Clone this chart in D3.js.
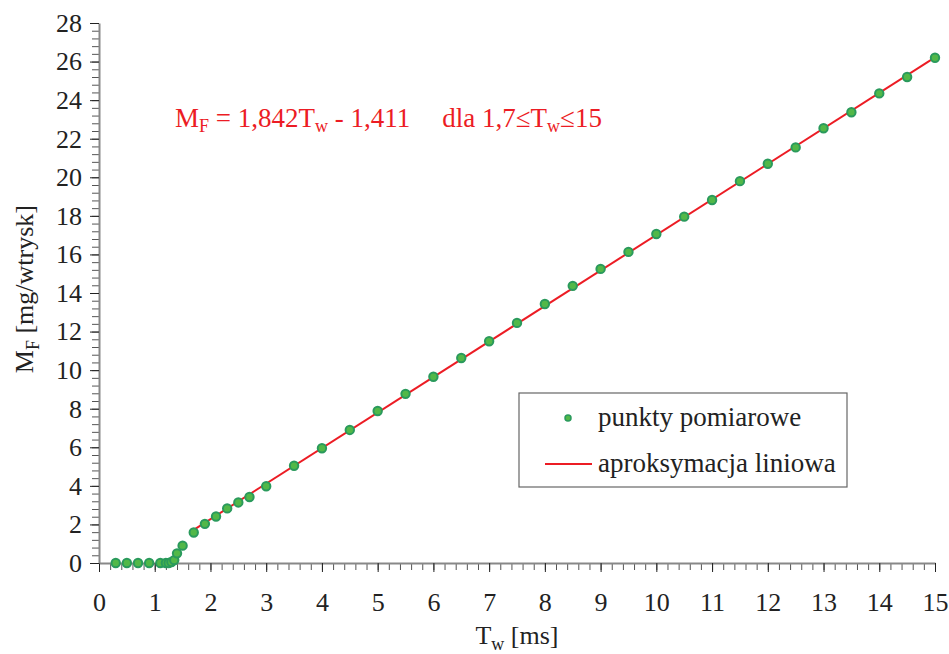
<!DOCTYPE html>
<html>
<head>
    <meta charset="utf-8">
    <title>M_F vs T_w</title>
    <script src="https://d3js.org/d3.v7.min.js"></script>
    <style>
        body { margin: 0; background: #fff; }
        svg text { font-family: "Liberation Serif", "Times New Roman", serif; }
    </style>
</head>
<body>
    <div id="chart"></div>
    <script>
        // measured points (T_w in ms, M_F in mg/wtrysk)
        const tw = [0.3, 0.5, 0.7, 0.9, 1.1, 1.2, 1.25, 1.3, 1.35, 1.4, 1.5,
                    1.7, 1.9, 2.1, 2.3, 2.5, 2.7, 3.0, 3.5, 4.0, 4.5, 5.0, 5.5,
                    6.0, 6.5, 7.0, 7.5, 8.0, 8.5, 9.0, 9.5, 10.0, 10.5, 11.0,
                    11.5, 12.0, 12.5, 13.0, 13.5, 14.0, 14.5, 15.0];
        const mf = [0, 0, 0, 0, 0, 0, 0, 0.05, 0.15, 0.5, 0.9,
                    1.58, 2.03, 2.41, 2.83, 3.14, 3.42, 3.98, 5.04, 5.95, 6.9, 7.88, 8.77,
                    9.66, 10.63, 11.5, 12.45, 13.43, 14.37, 15.25, 16.13, 17.06, 17.96, 18.82,
                    19.8, 20.7, 21.55, 22.54, 23.37, 24.35, 25.2, 26.2];

        // linear fit
        const slope = 1.842;
        const intercept = -1.411;
        const fitRange = [1.7, 15];

        const xTicks = d3.range(0, 16, 1);
        const yTicks = d3.range(0, 29, 2);

        const width = 949, height = 654;
        const margin = { top: 23, right: 14, bottom: 91, left: 99 };
        const fs = 26, sub = 18;

        const svg = d3.select("#chart").append("svg")
            .attr("width", width)
            .attr("height", height);

        const x = d3.scaleLinear().domain([0, 15]).range([margin.left, width - margin.right]);
        const y = d3.scaleLinear().domain([0, 28]).range([height - margin.bottom, margin.top]);

        // minor ticks
        svg.append("g")
            .attr("transform", `translate(0,${y(0)})`)
            .call(d3.axisBottom(x).tickValues(d3.range(0, 15.01, 0.2)).tickSize(7).tickFormat(""))
            .call(g => g.select(".domain").remove())
            .call(g => g.selectAll("line").attr("stroke", "#555"));
        svg.append("g")
            .attr("transform", `translate(${x(0)},0)`)
            .call(d3.axisLeft(y).tickValues(d3.range(0, 28.01, 0.4)).tickSize(7).tickFormat(""))
            .call(g => g.select(".domain").remove())
            .call(g => g.selectAll("line").attr("stroke", "#555"));

        // major ticks + labels
        svg.append("g")
            .attr("transform", `translate(0,${y(0)})`)
            .call(d3.axisBottom(x).tickValues(xTicks).tickSize(9).tickPadding(21).tickSizeOuter(0))
            .call(g => g.select(".domain").attr("stroke", "#888").attr("stroke-width", 2))
            .call(g => g.selectAll("line").attr("stroke", "#222"))
            .call(g => g.selectAll("text").attr("font-size", fs).attr("fill", "#222"));
        svg.append("g")
            .attr("transform", `translate(${x(0)},0)`)
            .call(d3.axisLeft(y).tickValues(yTicks).tickSize(9).tickPadding(8).tickSizeOuter(0))
            .call(g => g.select(".domain").attr("stroke", "#888").attr("stroke-width", 2))
            .call(g => g.selectAll("line").attr("stroke", "#222"))
            .call(g => g.selectAll("text").attr("font-size", fs).attr("fill", "#222"));

        // axis titles
        const xt = svg.append("text")
            .attr("x", x(7.5))
            .attr("y", 644)
            .attr("text-anchor", "middle")
            .attr("font-size", fs)
            .attr("fill", "#222");
        xt.append("tspan").text("T");
        xt.append("tspan").attr("font-size", sub).attr("dy", 6).text("w");
        xt.append("tspan").attr("dy", -6).text(" [ms]");

        const yt = svg.append("text")
            .attr("transform", `translate(33,${y(14.2)}) rotate(-90)`)
            .attr("text-anchor", "middle")
            .attr("font-size", fs)
            .attr("fill", "#222");
        yt.append("tspan").text("M");
        yt.append("tspan").attr("font-size", sub).attr("dy", 6).text("F");
        yt.append("tspan").attr("dy", -6).text(" [mg/wtrysk]");

        // fit line
        const line = d3.line().x(d => x(d)).y(d => y(slope * d + intercept));
        svg.append("path")
            .datum(fitRange)
            .attr("d", line)
            .attr("fill", "none")
            .attr("stroke", "#ec1c24")
            .attr("stroke-width", 2);

        // points
        svg.append("g")
            .selectAll("circle")
            .data(tw.map((t, i) => [t, mf[i]]))
            .join("circle")
            .attr("cx", d => x(d[0]))
            .attr("cy", d => y(d[1]))
            .attr("r", 4.2)
            .attr("fill", "#52b848")
            .attr("stroke", "#2a9a5c")
            .attr("stroke-width", 2);

        // equation
        const eq = svg.append("text")
            .attr("x", 175)
            .attr("y", 127)
            .attr("font-size", 27)
            .attr("fill", "#ec1c24");
        eq.append("tspan").text("M");
        eq.append("tspan").attr("font-size", sub).attr("dy", 5).text("F");
        eq.append("tspan").attr("dy", -5).text(" = 1,842T");
        eq.append("tspan").attr("font-size", sub).attr("dy", 5).text("w");
        eq.append("tspan").attr("dy", -5).text(" - 1,411");
        eq.append("tspan").attr("dx", 32).text("dla 1,7≤T");
        eq.append("tspan").attr("font-size", sub).attr("dy", 5).text("w");
        eq.append("tspan").attr("dy", -5).text("≤15");

        // legend
        const lg = svg.append("g").attr("transform", "translate(519,393)");
        lg.append("rect")
            .attr("width", 328).attr("height", 94)
            .attr("fill", "#fff").attr("stroke", "#666").attr("stroke-width", 1.2);
        lg.append("circle").attr("cx", 49).attr("cy", 25).attr("r", 3)
            .attr("fill", "#52b848").attr("stroke", "#2a9a5c").attr("stroke-width", 1.5);
        lg.append("text").attr("x", 79).attr("y", 33).attr("font-size", 27).attr("fill", "#222")
            .text("punkty pomiarowe");
        lg.append("line").attr("x1", 26).attr("x2", 73).attr("y1", 71).attr("y2", 71)
            .attr("stroke", "#ec1c24").attr("stroke-width", 2);
        lg.append("text").attr("x", 79).attr("y", 79).attr("font-size", 27).attr("fill", "#222")
            .text("aproksymacja liniowa");
    </script>
</body>
</html>
